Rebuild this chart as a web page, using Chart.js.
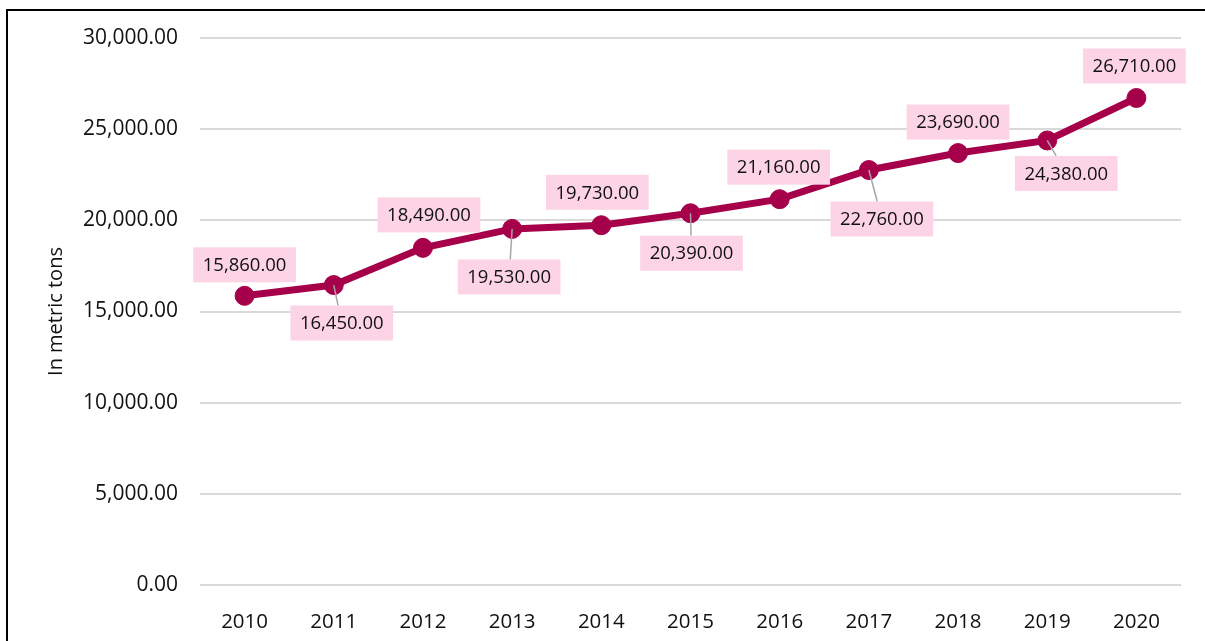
<!DOCTYPE html>
<html>
<head>
<meta charset="utf-8">
<title>In metric tons</title>
<script src="https://cdn.jsdelivr.net/npm/chart.js@4"></script>
<style>
    html, body { margin: 0; padding: 0; background: #fff; }
    #wrap { position: relative; width: 1205px; height: 641px; overflow: hidden; }
    #frame {
        position: absolute; left: 6px; top: 9px; width: 1300px; height: 700px;
        border-left: 2px solid #000; border-top: 2px solid #000;
        pointer-events: none;
    }
    canvas { position: absolute; left: 0; top: 0; }
</style>
</head>
<body>
<div id="wrap">
    <canvas id="tonsChart" width="1205" height="641"></canvas>
    <div id="frame"></div>
</div>
<script>
const years = ['2010', '2011', '2012', '2013', '2014', '2015', '2016', '2017', '2018', '2019', '2020'];
const tons = [15860, 16450, 18490, 19530, 19730, 20390, 21160, 22760, 23690, 24380, 26710];
const yTicks = [0, 5000, 10000, 15000, 20000, 25000, 30000];

const LINE_COLOR = '#A6004A';
const TEXT_COLOR = '#111';
const FONT = "'Open Sans', 'Noto Sans', sans-serif";

function fmt(v) {
    return v.toLocaleString('en-US', { minimumFractionDigits: 2, maximumFractionDigits: 2 });
}

// label boxes sit above or below each point, offsets in px from the marker
const labelOffsets = [
    [0, -31], [8, 38], [6, -33], [-3, 48], [-4, -33], [1, 40],
    [-1, -32], [13, 49], [0, -31], [19, 33], [-2, -32]
];

const valueBoxes = {
    id: 'valueBoxes',
    afterDatasetsDraw(chart) {
        const ctx = chart.ctx;
        const pts = chart.getDatasetMeta(0).data;
        const ds = chart.data.datasets[0].data;
        ctx.save();
        ctx.font = '18.5px ' + FONT;
        ctx.textAlign = 'center';
        ctx.textBaseline = 'middle';
        pts.forEach((p, i) => {
            const text = fmt(ds[i]);
            const w = ctx.measureText(text).width + 19;
            const h = 35;
            const cx = p.x + labelOffsets[i][0];
            const cy = p.y + labelOffsets[i][1];
            const top = cy - h / 2;

            // leader line for boxes pushed down below the marker
            if (cy > p.y && top - p.y > 15) {
                const ex = p.x + (cx - p.x) * (top - p.y) / (cy - p.y);
                ctx.strokeStyle = '#A6A6A6';
                ctx.lineWidth = 1.5;
                ctx.beginPath();
                ctx.moveTo(p.x, p.y);
                ctx.lineTo(ex, top);
                ctx.stroke();
            }

            ctx.fillStyle = '#FCD4E5';
            ctx.fillRect(cx - w / 2, top, w, h);
            ctx.fillStyle = TEXT_COLOR;
            ctx.fillText(text, cx, cy + 1);
        });
        ctx.restore();
    }
};

const ctx = document.getElementById('tonsChart').getContext('2d');

new Chart(ctx, {
    type: 'line',
    data: {
        labels: years,
        datasets: [{
            data: tons,
            borderColor: LINE_COLOR,
            backgroundColor: LINE_COLOR,
            borderWidth: 7,
            pointRadius: 9.5,
            pointBorderWidth: 1,
            pointBackgroundColor: LINE_COLOR,
            pointBorderColor: LINE_COLOR,
            tension: 0,
            fill: false
        }]
    },
    options: {
        responsive: false,
        animation: false,
        layout: { padding: { top: 38, right: 24, bottom: 0, left: 0 } },
        plugins: {
            legend: { display: false },
            tooltip: { enabled: false }
        },
        scales: {
            x: {
                offset: true,
                grid: { display: false },
                border: { display: false },
                ticks: {
                    color: TEXT_COLOR,
                    padding: 17,
                    font: { family: FONT, size: 20.5 }
                },
                afterFit(scale) { scale.height = 56; }
            },
            y: {
                min: 0,
                max: 30000,
                afterBuildTicks(scale) {
                    scale.ticks = yTicks.map(v => ({ value: v }));
                },
                grid: { color: '#D9D9D9', lineWidth: 2, drawTicks: false },
                border: { display: false },
                ticks: {
                    color: TEXT_COLOR,
                    padding: 22,
                    font: { family: FONT, size: 21 },
                    callback: v => fmt(v)
                },
                title: {
                    display: true,
                    text: 'In metric tons',
                    color: TEXT_COLOR,
                    font: { family: FONT, size: 20 },
                    padding: { top: 44, bottom: 0 }
                },
                afterFit(scale) { scale.width = 200; }
            }
        }
    },
    plugins: [valueBoxes]
});
</script>
</body>
</html>
